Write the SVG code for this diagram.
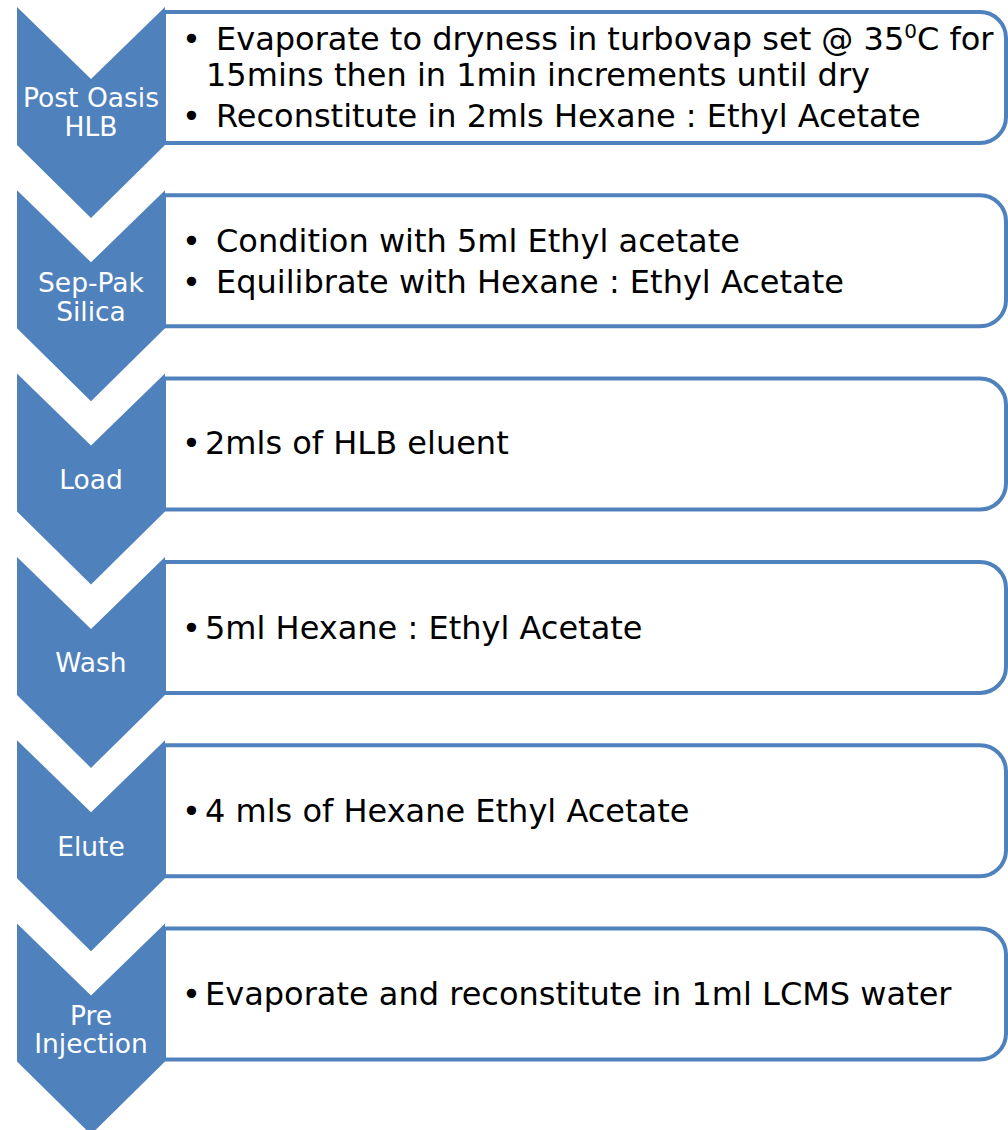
<svg xmlns="http://www.w3.org/2000/svg" width="1008" height="1130" viewBox="0 0 1008 1130">
<style>
.box{fill:#fff;stroke:#4F81BD;stroke-width:4}
.chev{fill:#4F81BD}
.lbl{font-family:"DejaVu Sans",Verdana,sans-serif;font-size:26.5px;fill:#fff;text-anchor:middle}
.txt{font-family:"DejaVu Sans",Verdana,sans-serif;font-size:32px;fill:#000}
</style>
<defs>
<path id="rbox" d="M0,0 H816 a26,26 0 0 1 26,26 V105 a26,26 0 0 1 -26,26 H0 Z"/>
<path id="chevron" d="M0,0 L74,72 L148,0 V138 L74,211 L0,138 Z"/>
</defs>
<g id="step1">
<use href="#rbox" class="box" x="164" y="12"/>
<use href="#chevron" class="chev" x="17" y="7"/>
<text class="lbl"><tspan x="91" y="107">Post Oasis</tspan><tspan x="91" y="136">HLB</tspan></text>
<text class="txt" x="182" y="50">•</text>
<text class="txt" x="216" y="50">Evaporate to dryness in turbovap set @ 35<tspan font-size="20" dy="-12">0</tspan><tspan dy="12">C for</tspan></text>
<text class="txt" x="206" y="86">15mins then in 1min increments until dry</text>
<text class="txt" x="182" y="127">•</text>
<text class="txt" x="216" y="127">Reconstitute in 2mls Hexane : Ethyl Acetate</text>
</g>
<g id="step2">
<use href="#rbox" class="box" x="164" y="195.3"/>
<use href="#chevron" class="chev" x="17" y="190.3"/>
<text class="lbl"><tspan x="91" y="292">Sep-Pak</tspan><tspan x="91" y="321">Silica</tspan></text>
<text class="txt" x="182" y="252">•</text>
<text class="txt" x="216" y="252">Condition with 5ml Ethyl acetate</text>
<text class="txt" x="182" y="293">•</text>
<text class="txt" x="216" y="293">Equilibrate with Hexane : Ethyl Acetate</text>
</g>
<g id="step3">
<use href="#rbox" class="box" x="164" y="378.6"/>
<use href="#chevron" class="chev" x="17" y="373.6"/>
<text class="lbl" x="91" y="489">Load</text>
<text class="txt" x="182" y="454">•</text>
<text class="txt" x="205" y="454">2mls of HLB eluent</text>
</g>
<g id="step4">
<use href="#rbox" class="box" x="164" y="561.9"/>
<use href="#chevron" class="chev" x="17" y="556.9"/>
<text class="lbl" x="91" y="672">Wash</text>
<text class="txt" x="182" y="639">•</text>
<text class="txt" x="205" y="639">5ml Hexane : Ethyl Acetate</text>
</g>
<g id="step5">
<use href="#rbox" class="box" x="164" y="745.2"/>
<use href="#chevron" class="chev" x="17" y="740.2"/>
<text class="lbl" x="91" y="856">Elute</text>
<text class="txt" x="182" y="822">•</text>
<text class="txt" x="205" y="822">4 mls of Hexane Ethyl Acetate</text>
</g>
<g id="step6">
<use href="#rbox" class="box" x="164" y="928.5"/>
<use href="#chevron" class="chev" x="17" y="923.5"/>
<text class="lbl"><tspan x="91" y="1025">Pre</tspan><tspan x="91" y="1053">Injection</tspan></text>
<text class="txt" x="182" y="1005">•</text>
<text class="txt" x="205" y="1005">Evaporate and reconstitute in 1ml LCMS water</text>
</g>
<g id="connectors"/>
</svg>
